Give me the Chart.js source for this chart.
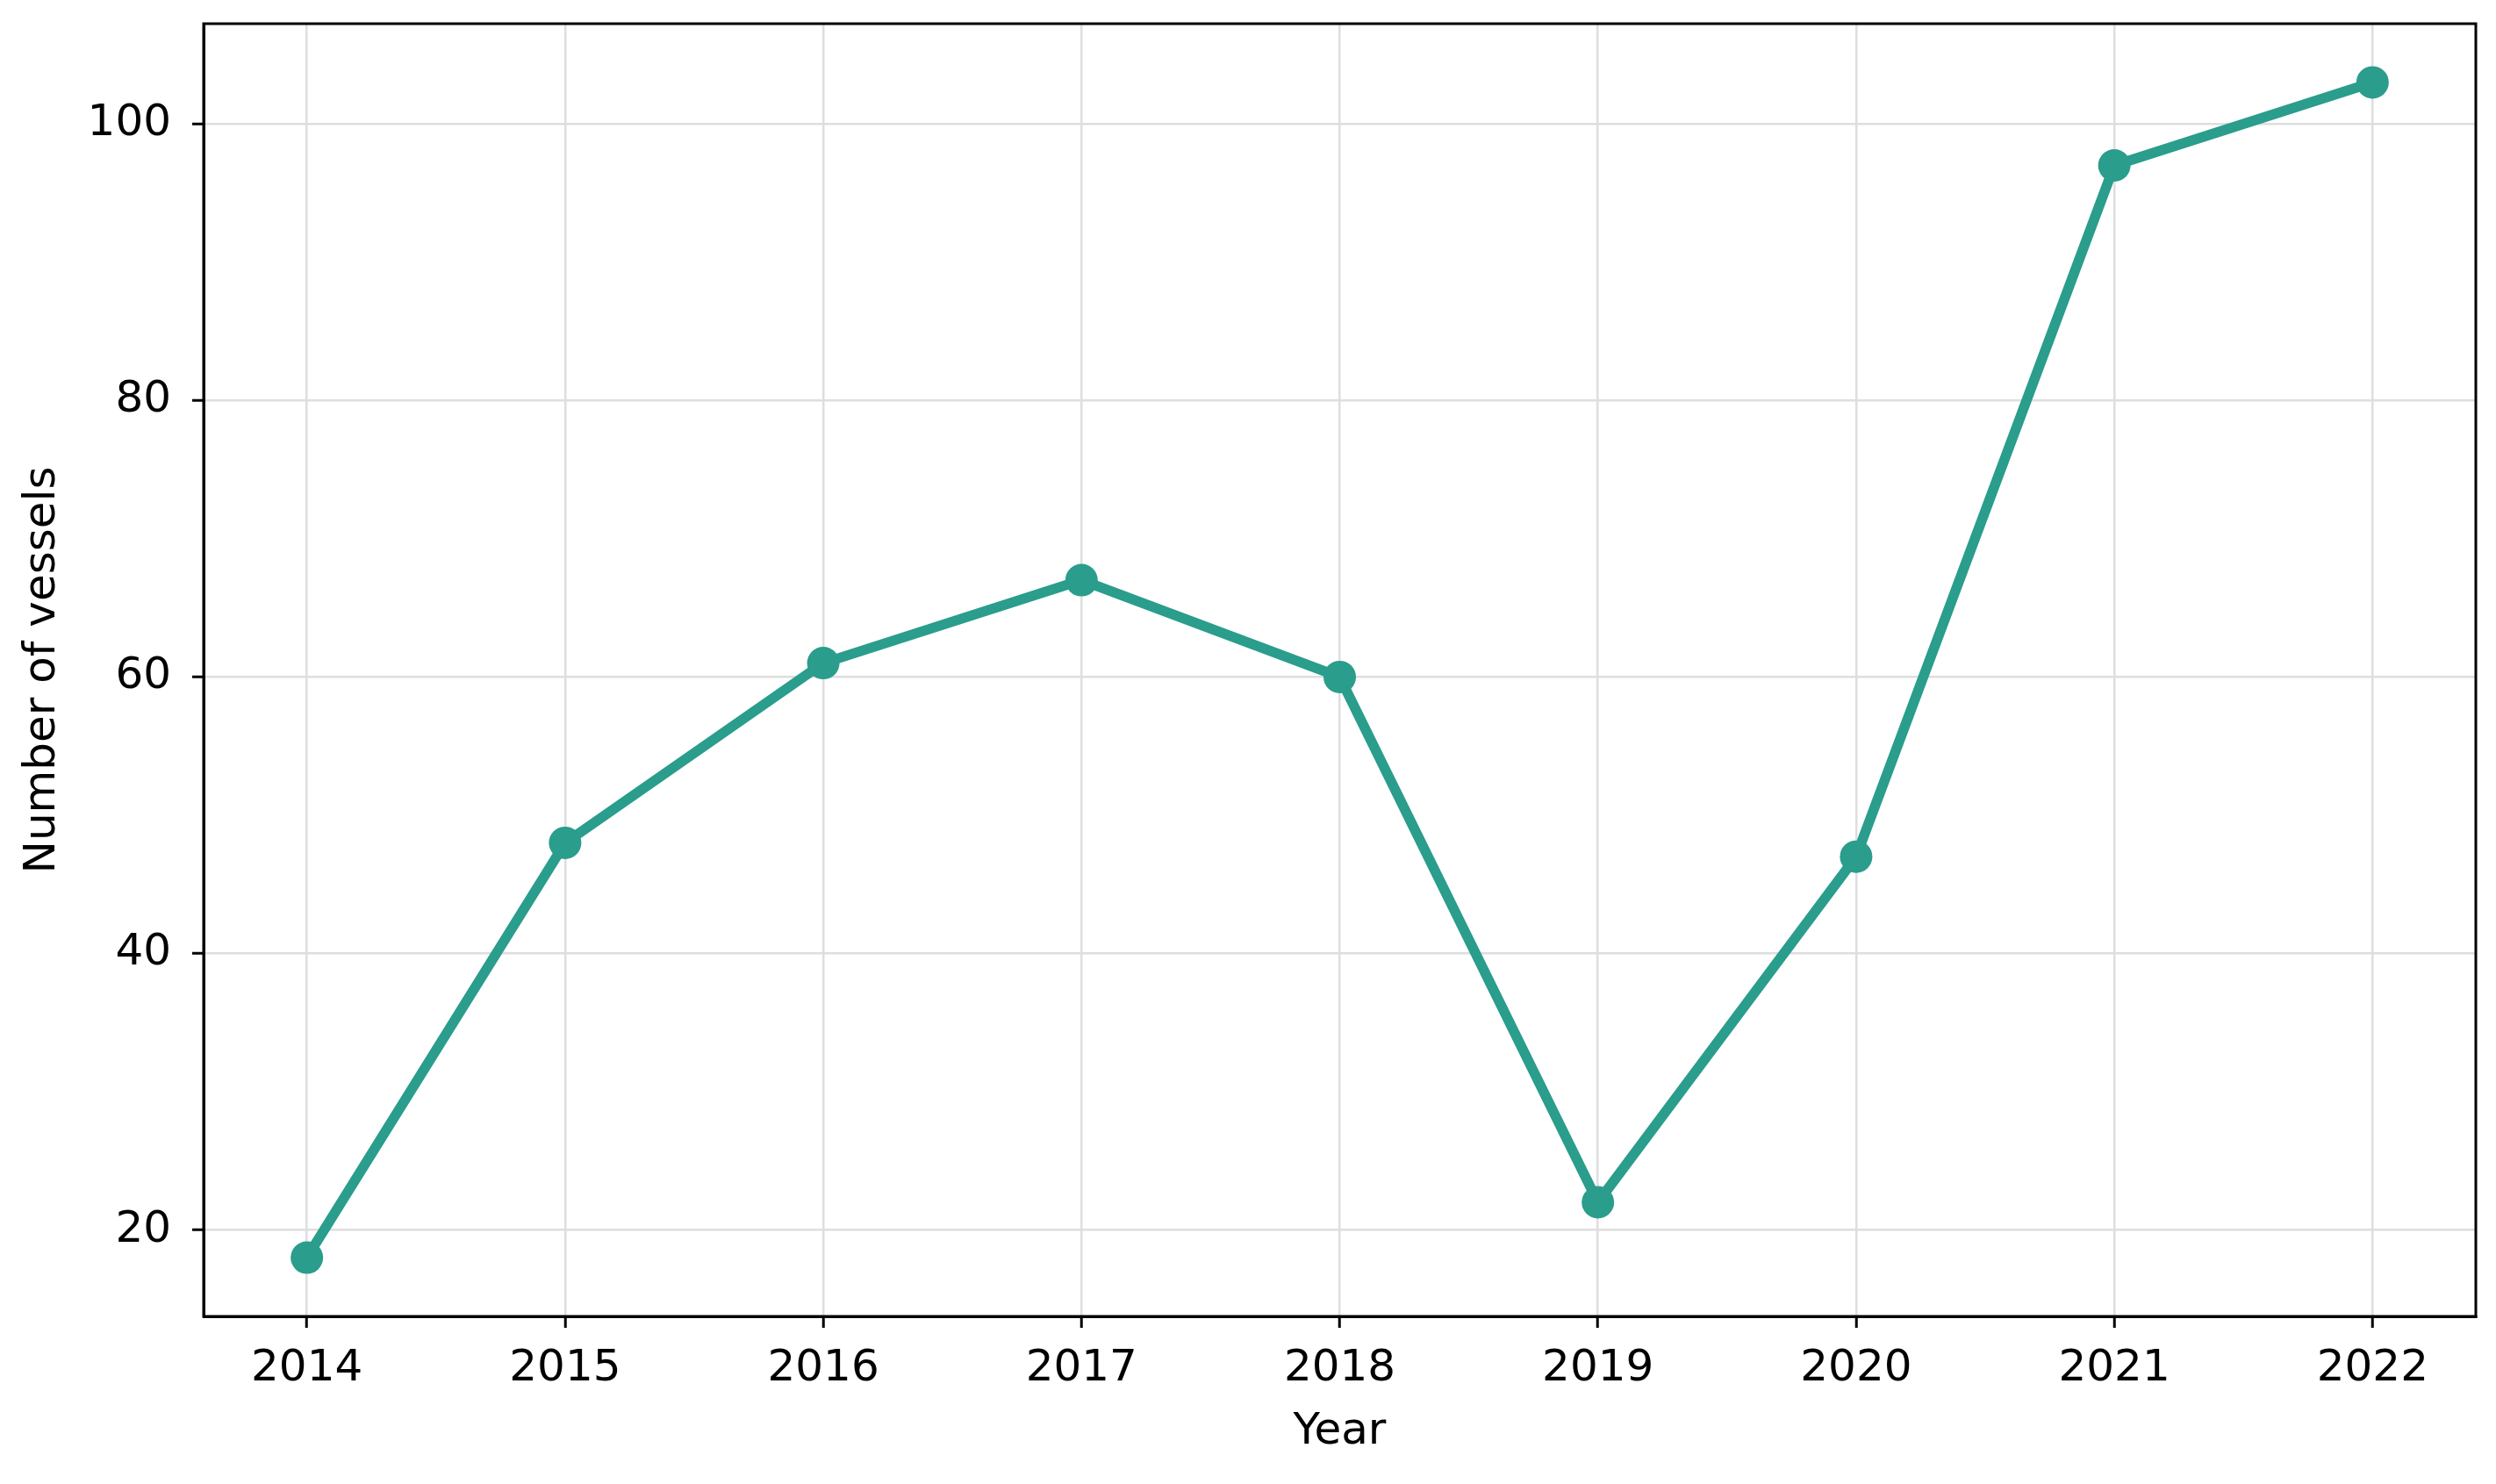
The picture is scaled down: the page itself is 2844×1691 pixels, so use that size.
<!DOCTYPE html>
<html>
<head>
<meta charset="utf-8">
<script src="https://cdn.jsdelivr.net/npm/chart.js@4/dist/chart.umd.min.js"></script>
<style>
  html, body { margin: 0; padding: 0; background: #fff; }
  canvas { display: block; }
</style>
</head>
<body>
<canvas id="myChart" width="2844" height="1691"></canvas>
<script>
// data
var years = [2014, 2015, 2016, 2017, 2018, 2019, 2020, 2021, 2022];
var vessels = [18, 48, 61, 67, 60, 22, 47, 97, 103];
var yTicks = [20, 40, 60, 80, 100];

var teal = '#2a9d8c';

// draws the closed box around the plot like matplotlib does
var frame = {
    id: 'frame',
    afterDraw: function (chart) {
        var a = chart.chartArea;
        var ctx = chart.ctx;
        ctx.save();
        ctx.strokeStyle = '#000';
        ctx.lineWidth = 3;
        ctx.strokeRect(a.left, a.top, a.right - a.left, a.bottom - a.top);
        ctx.restore();
    }
};

var ctx = document.getElementById('myChart').getContext('2d');
var chart = new Chart(ctx, {
    type: 'line',
    data: {
        datasets: [{
            data: years.map(function (y, i) { return { x: y, y: vessels[i] }; }),
            borderColor: teal,
            backgroundColor: teal,
            borderWidth: 11.5,
            pointRadius: 18.5,
            pointBorderWidth: 0,
            pointBackgroundColor: teal,
            tension: 0
        }]
    },
    options: {
        responsive: false,
        animation: false,
        devicePixelRatio: 1,
        layout: { padding: { left: 0, top: 27, right: 23, bottom: 0 } },
        plugins: {
            legend: { display: false },
            tooltip: { enabled: false }
        },
        scales: {
            x: {
                type: 'linear',
                min: 2013.6,
                max: 2022.4,
                afterBuildTicks: function (scale) {
                    scale.ticks = years.map(function (v) { return { value: v }; });
                },
                afterFit: function (scale) {
                    scale.height = 191;
                    scale.paddingLeft = 0;
                    scale.paddingRight = 0;
                },
                ticks: {
                    color: '#000',
                    font: { family: 'DejaVu Sans', size: 50 },
                    padding: 17,
                    maxRotation: 0,
                    autoSkip: false,
                    callback: function (v) { return String(v); }
                },
                grid: {
                    color: '#dedede',
                    lineWidth: 2.5,
                    tickColor: '#000',
                    tickWidth: 3,
                    tickLength: 13
                },
                border: { color: '#000', width: 3 },
                title: {
                    display: true,
                    text: 'Year',
                    color: '#000',
                    font: { family: 'DejaVu Sans', size: 50 },
                    padding: { top: 0, bottom: 29 }
                }
            },
            y: {
                min: 13.75,
                max: 107.25,
                afterBuildTicks: function (scale) {
                    scale.ticks = yTicks.map(function (v) { return { value: v }; });
                },
                afterFit: function (scale) {
                    scale.width = 232;
                    scale.paddingTop = 0;
                    scale.paddingBottom = 0;
                },
                ticks: {
                    color: '#000',
                    font: { family: 'DejaVu Sans', size: 50 },
                    padding: 24
                },
                grid: {
                    color: '#dedede',
                    lineWidth: 2.5,
                    tickColor: '#000',
                    tickWidth: 3,
                    tickLength: 13
                },
                border: { color: '#000', width: 3 },
                title: {
                    display: true,
                    text: 'Number of vessels',
                    color: '#000',
                    font: { family: 'DejaVu Sans', size: 50 },
                    padding: { top: 19, bottom: 0 }
                }
            }
        }
    },
    plugins: [frame]
});
</script>
</body>
</html>
